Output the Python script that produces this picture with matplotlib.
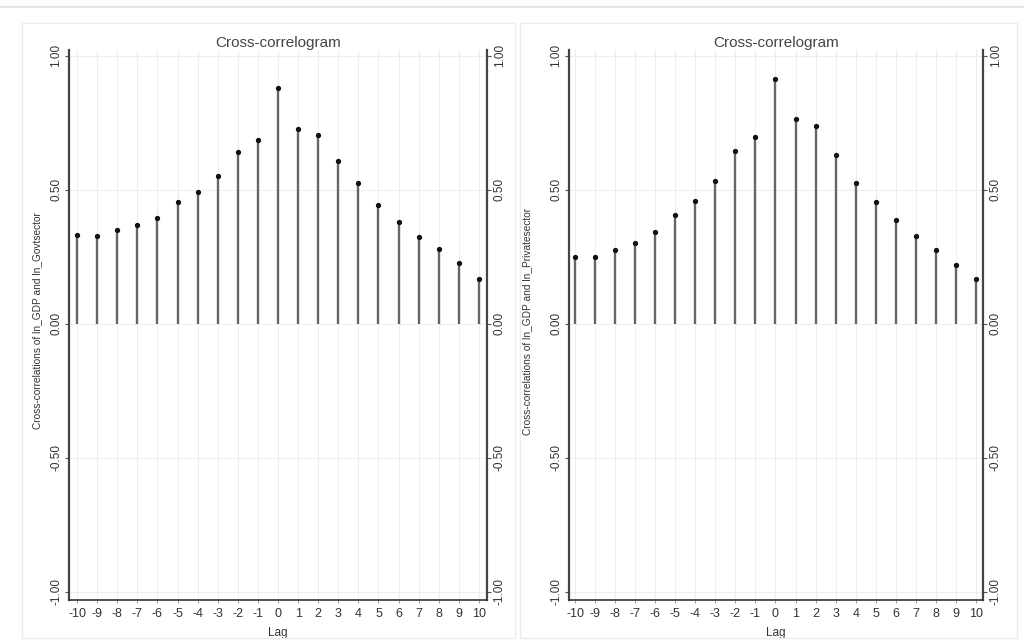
import numpy as np
import matplotlib.pyplot as plt
from matplotlib.patches import Rectangle

plt.rcParams['font.family'] = ['Liberation Sans', 'DejaVu Sans']

# Дані: лаги та крос-кореляції
lags = list(range(-10, 11))
corr_gov = [0.333, 0.328, 0.349, 0.368, 0.397, 0.455, 0.493, 0.552, 0.640, 0.685, 0.882,
            0.729, 0.705, 0.607, 0.524, 0.445, 0.382, 0.323, 0.279, 0.228, 0.168]
corr_priv = [0.249, 0.249, 0.277, 0.302, 0.344, 0.408, 0.458, 0.535, 0.645, 0.696, 0.913,
             0.763, 0.738, 0.632, 0.527, 0.454, 0.389, 0.328, 0.277, 0.218, 0.167]
ytick_vals = [-1.0, -0.5, 0.0, 0.5, 1.0]
ytick_labels = ['-1.00', '-0.50', '0.00', '0.50', '1.00']
title = 'Cross-correlogram'
ylabels = ['Cross-correlations of ln_GDP and ln_Govtsector',
           'Cross-correlations of ln_GDP and ln_Privatesector']

fig = plt.figure(figsize=(10.24, 6.42), dpi=100)

# рамка зверху та рамки панелей
fig.add_artist(plt.Line2D([0.0, 1.0], [1 - 7 / 642, 1 - 7 / 642], color='#e4e4e4', lw=1.5,
                          transform=fig.transFigure))
for x0, x1 in [(22, 515), (520, 1017)]:
    fig.add_artist(Rectangle((x0 / 1024, 1 - 638 / 642), (x1 - x0) / 1024, (638 - 23) / 642,
                             transform=fig.transFigure, fill=False, ec='#ececec', lw=1))

positions = [(69, 487, -10.4, 10.4, 37), (569, 983, -10.3, 10.35, 527)]


def draw_panel(pos, values, ylabel):
    px0, px1, xmin, xmax, ylab_x = pos
    ax = fig.add_axes([px0 / 1024, 1 - 600 / 642, (px1 - px0) / 1024, 550 / 642])
    ax.set_xlim(xmin, xmax)
    ax.set_ylim(-1.03, 1.022)
    for lag in lags:
        ax.axvline(lag, color='#eeeeee', lw=0.8, zorder=0)
    for yv in ytick_vals:
        ax.axhline(yv, color='#eeeeee', lw=0.8, zorder=0)
    ax.vlines(lags, 0, values, color='#666666', lw=1.7, zorder=2)
    ax.plot(lags, values, 'o', color='#111111', ms=2.8, zorder=3)

    ax.set_xticks(lags)
    ax.set_xticklabels([str(l) for l in lags], fontsize=9, color='#333333')
    ax.set_yticks(ytick_vals)
    ax.set_yticklabels(ytick_labels, rotation=90, va='center', fontsize=8.5, color='#333333')
    ax.tick_params(axis='y', which='both', left=True, right=True, labelleft=True,
                   labelright=True, length=3, width=0.8, color='#555555', pad=2)
    ax.tick_params(axis='x', length=2, width=0.6, color='#888888', pad=4)
    for side in ['left', 'right']:
        ax.spines[side].set_linewidth(1.6)
        ax.spines[side].set_color('#444444')
    ax.spines['bottom'].set_linewidth(1.2)
    ax.spines['bottom'].set_color('#333333')
    ax.spines['top'].set_visible(False)

    ax.set_title(title, fontsize=11, color='#444444', pad=2)
    ax.set_xlabel('Lag', fontsize=8.5, color='#333333', labelpad=5)
    fig.text(ylab_x / 1024, 1 - 321 / 642, ylabel, rotation=90, fontsize=7.3,
             color='#333333', ha='center', va='center')
    return ax


draw_panel(positions[0], corr_gov, ylabels[0])
draw_panel(positions[1], corr_priv, ylabels[1])

fig.savefig('out.png', dpi=100)
